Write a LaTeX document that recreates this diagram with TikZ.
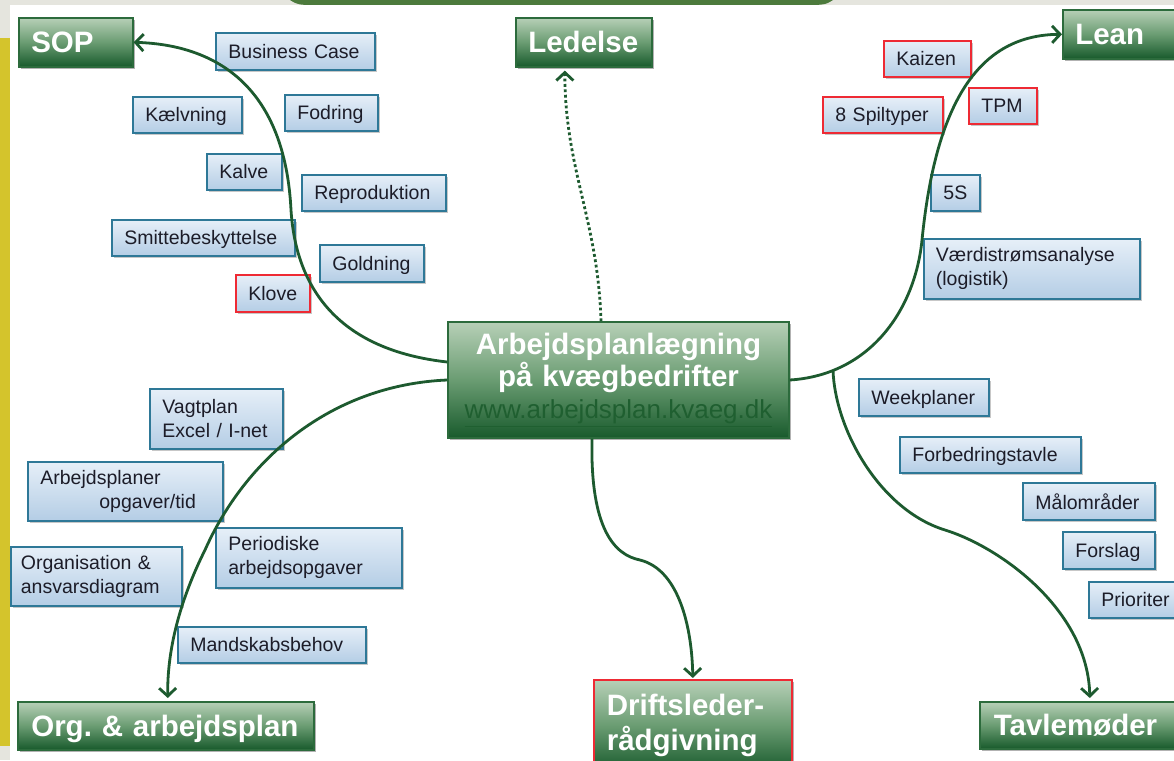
\documentclass[tikz,border=0pt]{standalone}
\usepackage{fontspec}
\setmainfont{Liberation Sans}
\frenchspacing
\usetikzlibrary{arrows.meta,shadows,calc}
\definecolor{gtop}{HTML}{B7D0B7}
\definecolor{gmid}{HTML}{6A9C72}
\definecolor{gbot}{HTML}{185A2C}
\definecolor{gborder}{HTML}{2C6B3C}
\definecolor{btop}{HTML}{E6EFF8}
\definecolor{bbot}{HTML}{B4CDE5}
\definecolor{bborder}{HTML}{2E7897}
\definecolor{redb}{HTML}{EE2A34}
\definecolor{connc}{HTML}{1D5A2F}
\definecolor{txt}{HTML}{1C1C28}
\definecolor{urlc}{HTML}{1F5F30}
\definecolor{ylw}{HTML}{D4C42C}
\definecolor{bgg}{HTML}{E5E5DE}
\definecolor{dome}{HTML}{4C7A3C}
\begin{document}
\begin{tikzpicture}[x=1pt,y=-1pt,
  bluemulti/.style={draw=bborder, line width=1.8pt, top color=btop, bottom color=bbot,
    anchor=north west, inner xsep=12.5pt, inner ysep=0pt, align=left, text=txt,
    font=\fontsize{19.5}{24}\selectfont,
    drop shadow={shadow xshift=2pt, shadow yshift=-2pt, opacity=0.22, fill=black}},
  bluebox/.style={bluemulti, text depth=0pt},
  redbox/.style={bluebox, draw=redb},
  greenmulti/.style={draw=gborder, line width=1.6pt, top color=gtop, bottom color=gbot, middle color=gmid,
    anchor=north west, inner xsep=12.5pt, inner ysep=0pt, align=left, text=white,
    font=\fontsize{29.5}{35}\selectfont\bfseries,
    drop shadow={shadow xshift=2pt, shadow yshift=-2pt, opacity=0.3, fill=black}},
  greenbox/.style={greenmulti, text depth=0pt},
  link/.style={draw=connc, line width=2.8pt, -{Straight Barb[length=8pt,width=17pt,line width=2.8pt]}},
]
\useasboundingbox (0,0) rectangle (1174,760);
\clip (0,0) rectangle (1174,760);
% background
\fill[white] (0,0) rectangle (1174,760);
\fill[bgg] (0,0) rectangle (1174,5);
\fill[bgg] (0,0) rectangle (10,38);
\fill[ylw] (0,38) rectangle (10,746);
\fill[bgg] (0,746) rectangle (10,760);
\fill[dome] (290,0) .. controls (298,5) .. (320,5) -- (800,5) .. controls (825,5) .. (833,0) -- cycle;

% main boxes
\node[greenbox, text width=89pt, minimum height=49pt] (sop) at (18,17) {SOP};
\node[greenbox, text width=111pt, minimum height=49pt] (led) at (515,17) {\mbox{Ledelse}};
\node[greenbox, text width=105pt, minimum height=49pt] (lean) at (1062,9) {Lean};
\node[greenbox, inner xsep=13.5pt, text width=269pt, minimum height=48pt] (org) at (17,701) {\mbox{Org. \& arbejdsplan}};
\node[greenbox, inner xsep=14pt, text width=185pt, minimum height=47pt] (tav) at (979,701) {\mbox{Tavlemøder}};
\node[greenmulti, draw=redb, inner xsep=13pt, text width=172pt, inner ysep=14.5pt] (drift) at (593,679) {Driftsleder-\\rådgivning};
\node[greenmulti, anchor=center, inner sep=0pt, text width=335pt, minimum width=341pt,
  minimum height=116pt, align=center, font=\fontsize{29.5}{32}\selectfont\bfseries] (cen) at (618.5,380)
  {Arbejdsplanlægning\\på kvægbedrifter\\{\fontsize{26}{32}\selectfont\mdseries\color{urlc}\underline{www.arbejdsplan.kvaeg.dk}}};

% SOP items
\node[bluebox, text width=134pt, minimum height=37pt] (bc) at (215,32) {Business Case};
\node[bluebox, text width=84pt, minimum height=36pt] (kaelv) at (132,96) {Kælvning};
\node[bluebox, text width=68pt, minimum height=36pt] (fod) at (284,94) {Fodring};
\node[bluebox, text width=50pt, minimum height=36pt] (kalve) at (206,153) {Kalve};
\node[bluebox, text width=119pt, minimum height=36pt] (repro) at (301,174) {Reproduktion};
\node[bluebox, text width=158pt, minimum height=36pt] (smitte) at (111,219) {Smittebeskyttelse};
\node[bluebox, text width=79pt, minimum height=37pt] (gold) at (319,244) {Goldning};
\node[redbox, text width=49pt, minimum height=37pt] (klove) at (235,274) {Klove};

% Lean items
\node[redbox, text width=62pt, minimum height=36pt] (kaizen) at (883,40) {Kaizen};
\node[redbox, text width=95pt, minimum height=36pt] (spil) at (822,96) {\mbox{8 Spiltyper}};
\node[redbox, text width=43pt, minimum height=36pt] (tpm) at (968,87) {TPM};
\node[bluebox, text width=24pt, minimum height=36pt] (fiveS) at (930,174) {5S};
\node[bluemulti, inner xsep=12pt, text width=192pt, minimum height=60pt] (vaerdi) at (923,238) {Værdistrømsanalyse\\(logistik)};

% Tavle items
\node[bluebox, text width=105pt, minimum height=37pt] (week) at (858,378) {Weekplaner};
\node[bluebox, text width=156pt, minimum height=36pt] (forb) at (899,436) {Forbedringstavle};
\node[bluebox, text width=107pt, minimum height=37pt] (maal) at (1022,482) {Målområder};
\node[bluebox, text width=67pt, minimum height=37pt] (forslag) at (1062,531) {Forslag};
\node[bluebox, text width=80pt, minimum height=36pt] (prio) at (1088,581) {Prioriter};

% Org items
\node[bluemulti, text width=108pt, minimum height=60pt] (vagt) at (149,388) {Vagtplan\\\mbox{Excel / I-net}};
\node[bluemulti, text width=170pt, minimum height=59pt] (arbpl) at (27,461) {Arbejdsplaner\\\hspace*{59pt}opgaver/tid};
\node[bluemulti, inner xsep=10pt, text width=151pt, minimum height=59pt] (orgdia) at (10,546) {\mbox{Organisation \&}\\ansvarsdiagram};
\node[bluemulti, text width=161pt, minimum height=60pt] (period) at (215,527) {Periodiske\\arbejdsopgaver};
\node[bluebox, text width=163pt, minimum height=36pt] (mand) at (177,626) {Mandskabsbehov};

% connectors
\coordinate (br) at (833,370);
\draw[link] ([yshift=18pt]cen.west) .. controls (340,350) and (296,290) .. (291,210)
  .. controls (285,90) and (220,45) .. (sop.east);
\draw[link, dash pattern=on 2.8pt off 2.6pt] ([xshift=-17.5pt]cen.north) .. controls (598,220) and (565,170) .. ([xshift=-19pt,yshift=-3pt]led.south);
\draw[link] (cen.east) .. controls (870,375) and (915,310) .. (922,240)
  .. controls (936,100) and (980,35) .. (lean.west);
\draw[link] (br) .. controls (835,430) and (880,510) .. (945,530)
  .. controls (1000,547) and (1088,610) .. ([xshift=3.5pt,yshift=3pt]tav.north);
\draw[link] (cen.west) .. controls (330,385) and (245,460) .. (205,550)
  .. controls (180,600) and (167,650) .. ([xshift=2pt,yshift=3pt]org.north);
\draw[link] ([xshift=-26.5pt]cen.south) .. controls (590,530) and (615,555) .. (640,560)
  .. controls (680,570) and (692,630) .. ([yshift=1pt]drift.north);
\end{tikzpicture}
\end{document}
